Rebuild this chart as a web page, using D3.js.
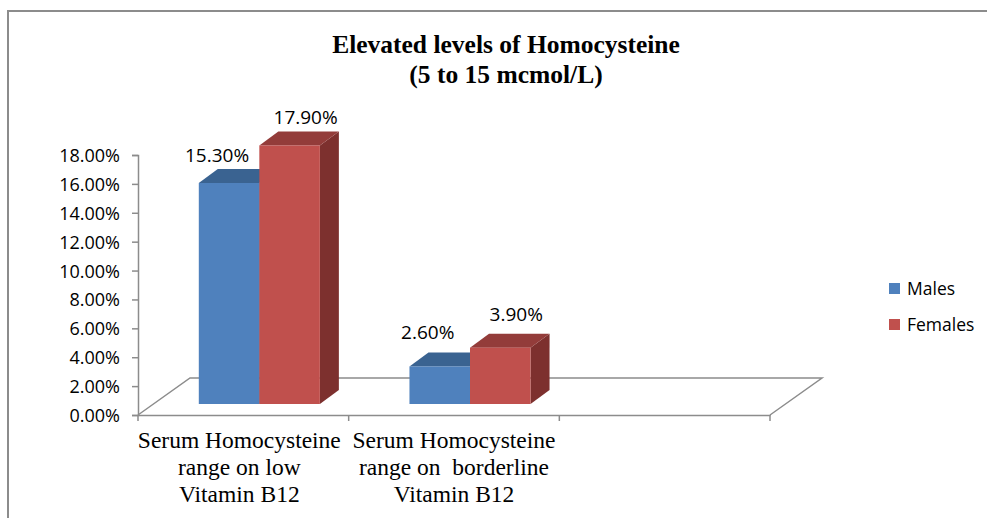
<!DOCTYPE html>
<html lang="en">
<head>
    <meta charset="UTF-8">
    <title>Elevated levels of Homocysteine</title>
    <script src="https://d3js.org/d3.v7.min.js"></script>
    <style>
        body { margin: 0; background: #fff; }
        svg { display: block; }
        .tick-label, .data-label, .legend-label { font-family: 'Open Sans', 'Lato', sans-serif; fill: #000; }
        .serif { font-family: 'Liberation Serif', 'Times New Roman', serif; fill: #000; }
    </style>
</head>
<body>
<svg id="chart" width="987" height="518"></svg>
<script>
    // data
    const categories = ["low", "borderline", "blank"];
    const categoryLabels = [
        ["Serum Homocysteine", "range on low", "Vitamin B12"],
        ["Serum Homocysteine", "range on  borderline", "Vitamin B12"],
        []
    ];
    const series = ["Males", "Females"];
    const males = [15.3, 2.6, null];
    const females = [17.9, 3.9, null];
    const yTicks = [0, 2, 4, 6, 8, 10, 12, 14, 16, 18];
    const titleLines = ["Elevated levels of Homocysteine", "(5 to 15 mcmol/L)"];

    const colors = {
        Males:   { front: "#4F81BD", top: "#3A6391", side: "#385D8A" },
        Females: { front: "#C0504D", top: "#933C3A", side: "#7D302E" }
    };

    const svg = d3.select("#chart");
    const axisColor = "#8c8c8c";

    // outer frame
    svg.append("rect")
        .attr("x", 8).attr("y", 11)
        .attr("width", 1000).attr("height", 540)
        .attr("fill", "#fff")
        .attr("stroke", axisColor).attr("stroke-width", 2);

    // scales
    const x0 = d3.scaleBand().domain(categories).range([138, 770]);
    const x1 = d3.scaleBand().domain(series).range([0, x0.bandwidth()]).paddingOuter(0.74);
    const y = d3.scaleLinear().domain([0, 18]).range([415, 155]);

    // 3d floor depth and bar recess
    const floorDx = 52, floorDy = -37;
    const recessDx = 16, recessDy = -11;
    const depthDx = 19, depthDy = -14;

    // floor outline
    const fx0 = x0.range()[0], fx1 = x0.range()[1], fy = y(0);
    svg.append("path")
        .attr("d", `M${fx0},${fy} L${fx0 + floorDx},${fy + floorDy} L${fx1 + floorDx},${fy + floorDy} L${fx1},${fy}`)
        .attr("fill", "none").attr("stroke", axisColor).attr("stroke-width", 1.5);

    // category axis (front edge + ticks)
    const xAxis = d3.axisBottom(x0).tickSize(0).tickFormat("");
    const gx = svg.append("g").attr("transform", `translate(0,${fy})`).call(xAxis);
    gx.select(".domain").attr("stroke", axisColor).attr("stroke-width", 1.5);
    gx.selectAll(".tick").remove();
    const edges = categories.map(c => x0(c)).concat([fx1]);
    svg.selectAll(".cat-tick").data(edges).enter().append("line")
        .attr("x1", d => d).attr("x2", d => d)
        .attr("y1", fy).attr("y2", fy + 6)
        .attr("stroke", axisColor).attr("stroke-width", 1.5);

    // value axis
    const yAxis = d3.axisLeft(y).tickValues(yTicks).tickSize(6).tickPadding(12)
        .tickFormat(d => d.toFixed(2) + "%");
    const gy = svg.append("g").attr("transform", `translate(${fx0},0)`).call(yAxis);
    gy.select(".domain").attr("stroke", axisColor).attr("stroke-width", 1.5);
    gy.selectAll(".tick line").attr("stroke", axisColor).attr("stroke-width", 1.5);
    gy.selectAll(".tick text").attr("class", "tick-label").attr("font-size", 18).attr("dy", "0.36em");

    // bars
    const rows = [];
    categories.forEach((c, i) => {
        [["Males", males[i]], ["Females", females[i]]].forEach(([s, v]) => {
            if (v != null) rows.push({ cat: c, series: s, value: v });
        });
    });

    const bars = svg.append("g");
    rows.forEach(d => {
        const xl = x0(d.cat) + x1(d.series) + recessDx;
        const xr = xl + x1.bandwidth();
        const yb = y(0) + recessDy;
        const yt = y(d.value) + recessDy;
        const c = colors[d.series];
        // side
        bars.append("path")
            .attr("d", `M${xr},${yb} L${xr + depthDx},${yb + depthDy} L${xr + depthDx},${yt + depthDy} L${xr},${yt}Z`)
            .attr("fill", c.side);
        // top
        bars.append("path")
            .attr("d", `M${xl},${yt} L${xl + depthDx},${yt + depthDy} L${xr + depthDx},${yt + depthDy} L${xr},${yt}Z`)
            .attr("fill", c.top);
        // front
        bars.append("rect")
            .attr("x", xl).attr("y", yt)
            .attr("width", x1.bandwidth()).attr("height", yb - yt)
            .attr("fill", c.front);
    });

    // data labels
    const labelShift = { Males: -12, Females: 16 };
    svg.selectAll(".data-label").data(rows).enter().append("text")
        .attr("class", "data-label")
        .attr("x", d => x0(d.cat) + x1(d.series) + x1.bandwidth() / 2 + recessDx + labelShift[d.series])
        .attr("y", d => y(d.value) + recessDy - (d.value > 10 ? 21 : 27))
        .attr("text-anchor", "middle")
        .attr("font-size", 19)
        .text(d => d.value.toFixed(2) + "%");

    // category labels
    categories.forEach((c, i) => {
        const t = svg.append("text")
            .attr("class", "serif")
            .attr("text-anchor", "middle")
            .attr("font-size", 23.5)
            .attr("xml:space", "preserve")
            .style("white-space", "pre");
        categoryLabels[i].forEach((line, j) => {
            t.append("tspan")
                .attr("x", x0(c) + x0.bandwidth() / 2 - (i === 0 ? 4 : 0))
                .attr("y", 448 + j * 27)
                .text(line);
        });
    });

    // title
    svg.selectAll(".title").data(titleLines).enter().append("text")
        .attr("class", "serif title")
        .attr("x", 506).attr("y", (d, i) => 53 + i * 30)
        .attr("text-anchor", "middle")
        .attr("font-size", 25.5).attr("font-weight", "bold")
        .text(d => d);

    // legend
    const legend = svg.append("g").attr("transform", "translate(889,283)");
    series.forEach((s, i) => {
        legend.append("rect")
            .attr("x", 0).attr("y", i * 36)
            .attr("width", 11).attr("height", 11)
            .attr("fill", colors[s].front);
        legend.append("text")
            .attr("class", "legend-label")
            .attr("x", 18).attr("y", i * 36 + 12)
            .attr("font-size", 17.5)
            .text(s);
    });
</script>
</body>
</html>
